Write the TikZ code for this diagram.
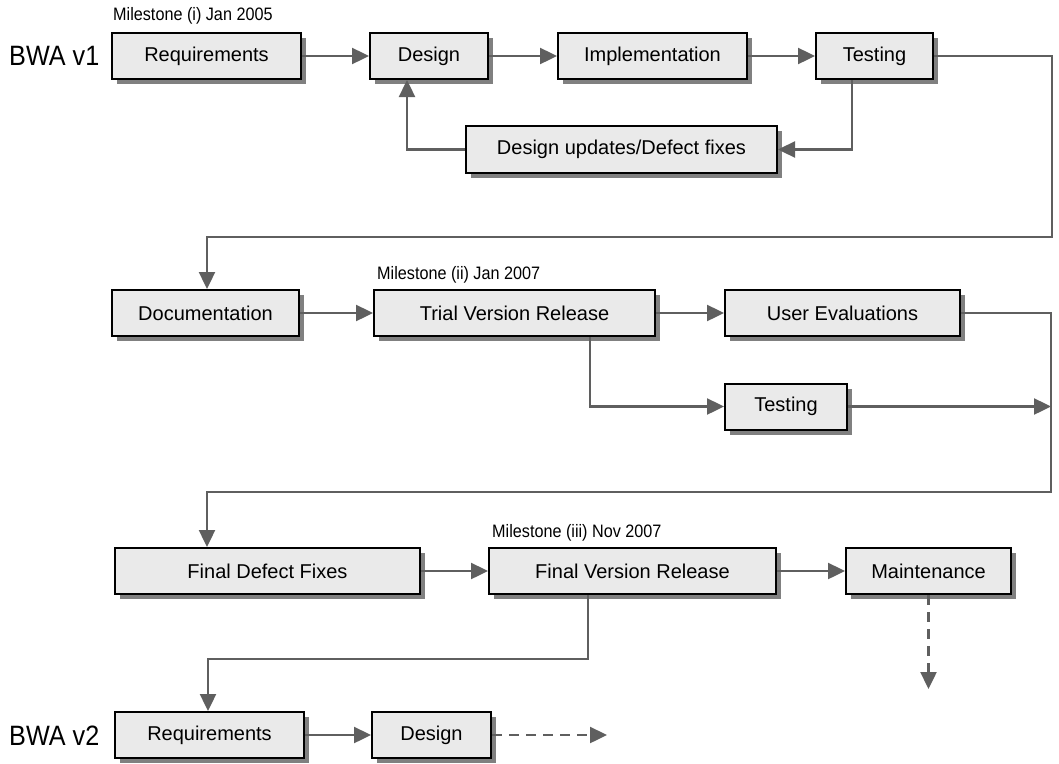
\documentclass[tikz,border=0pt]{standalone}
\usepackage{fontspec}
\setmainfont{Liberation Sans}
\newfontfamily\narrowfont[FakeStretch=0.9]{Liberation Sans}
\usepackage{tikz}
\usetikzlibrary{arrows.meta}
\usetikzlibrary{shadows}
\definecolor{boxfill}{HTML}{EAEAEA}
\definecolor{shade}{HTML}{808080}
\definecolor{wire}{HTML}{5F5F5F}
\tikzset{
  >={Triangle[length=17pt,width=16pt]},
  task/.style={draw, line width=2pt, fill=boxfill, minimum height=46pt, inner sep=0pt,
    font=\fontsize{20}{24}\selectfont,
    drop shadow={shadow xshift=5pt, shadow yshift=-5pt, fill=shade, opacity=1}},
  link/.style={line width=2.4pt, color=wire, ->},
  later/.style={dash pattern=on 10pt off 7pt},
  milestone/.style={anchor=base west, inner sep=0pt, font=\narrowfont\fontsize{18}{21}\selectfont},
  version/.style={anchor=base west, inner sep=0pt, font=\narrowfont\fontsize{28}{32}\selectfont}
}
\begin{document}
\begin{tikzpicture}[x=1pt,y=-1pt]
        \useasboundingbox (0,0) rectangle (1059,763);
        \node[version] at (9,65) (v1){BWA v1};
        \node[milestone] at (113,20) (m1){Milestone (i) Jan 2005};
        \node[task, minimum width=189pt] at (206.5,56) (req){Requirements};
        \node[task, minimum width=118pt] at (429,56) (des){Design};
        \node[task, minimum width=189pt] at (652.5,56) (impl){Implementation};
        \node[task, minimum width=117pt] at (874.5,56) (test){Testing};
        \node[task, minimum width=311pt, minimum height=47pt] at (621.5,149.5) (upd){Design updates/Defect fixes};
        \node[task, minimum width=187pt] at (205.5,313) (doc){Documentation};
        \node[milestone] at (377,279) (m2){Milestone (ii) Jan 2007};
        \node[task, minimum width=281pt] at (514.5,313) (trial){Trial Version Release};
        \node[task, minimum width=235pt] at (842.5,313) (user){User Evaluations};
        \node[task, minimum width=122pt] at (786,406.5) (retest){Testing};
        \node[task, minimum width=305pt] at (267.5,571) (fix){Final Defect Fixes};
        \node[milestone] at (492,537) (m3){Milestone (iii) Nov 2007};
        \node[task, minimum width=287pt] at (632.5,571) (final){Final Version Release};
        \node[task, minimum width=165pt] at (928.5,571) (maint){Maintenance};
        \node[version] at (9,745) (v2){BWA v2};
        \node[task, minimum width=189pt] at (209.5,735) (req2){Requirements};
        \node[task, minimum width=119pt] at (431.5,735) (des2){Design};
        \coordinate (turn1) at (1052,237);
        \coordinate (turn2) at (1051,492);
        \coordinate (turn3) at (588,659);
        \coordinate (end1) at (928.5,689);
        \coordinate (end2) at (607,735);
        \draw[link] (req) -- (des);
        \draw[link] (des) -- (impl);
        \draw[link] (impl) -- (test);
        \draw[link] ([xshift=-22.5pt]test.south) |- (upd.east);
        \draw[link] (upd.west) -| ([xshift=-22pt]des.south);
        \draw[link] (test.east) -| (turn1) -| ([xshift=1.5pt]doc.north);
        \draw[link] (doc) -- (trial);
        \draw[link] (trial) -- (user);
        \draw[link] ([xshift=75.5pt]trial.south) |- (retest.west);
        \draw[link] (retest.east) -- (retest.east -| turn2);
        \draw[link] (user.east) -| (turn2) -| ([xshift=-60.5pt]fix.north);
        \draw[link] (fix) -- (final);
        \draw[link] (final) -- (maint);
        \draw[link] ([xshift=-44.5pt]final.south) -- (turn3) -| ([xshift=-1.5pt]req2.north);
        \draw[link, later] (maint.south) -- (end1);
        \draw[link] (req2) -- (des2);
        \draw[link, later] (des2.east) -- (end2);
      \end{tikzpicture}
\end{document}
